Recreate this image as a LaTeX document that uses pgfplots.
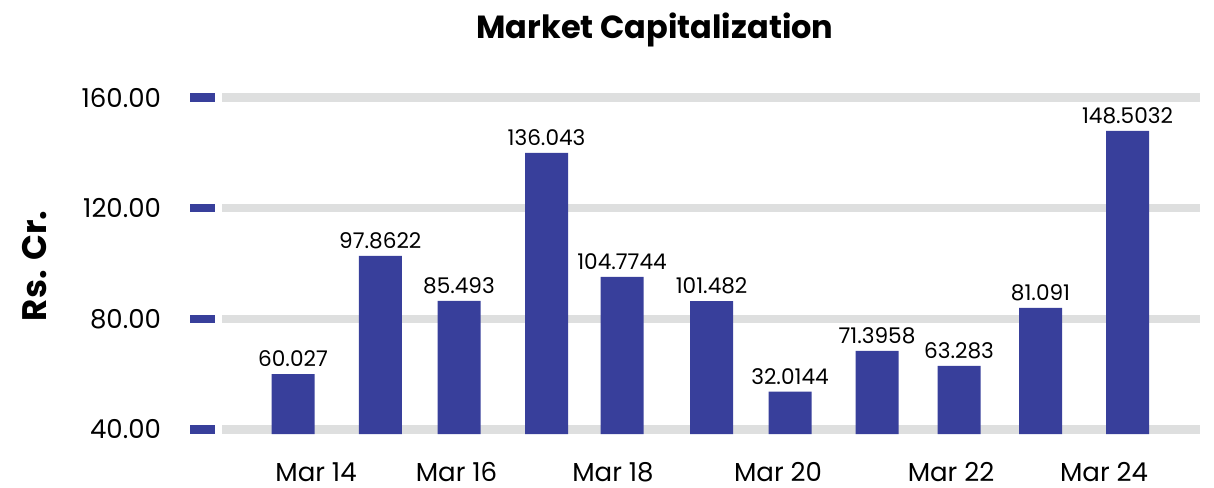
\documentclass[border=0pt]{standalone}
\usepackage{fontspec}
\setmainfont{Poppins}
\usepackage{pgfplots}
\pgfplotsset{compat=1.18}
\definecolor{barblue}{HTML}{383F9B}
\definecolor{gridgray}{HTML}{DEDFDF}
\begin{document}
\begin{tikzpicture}
\useasboundingbox (0,0) rectangle (607pt,243.5pt);
\begin{axis}[
  at={(111pt,26.5pt)}, anchor=south west,
  scale only axis,
  width=489pt, height=170.5pt,
  xmin=222, xmax=1200,
  ymin=38.37, ymax=161.63,
  axis line style={draw=none},
  ytick={40,80,120,160},
  xtick={316,456.5,613,778,951,1104},
  xticklabels={Mar 14,Mar 16,Mar 18,Mar 20,Mar 22,Mar 24},
  tick align=inside,
  major tick length=12.5pt,
  ytick pos=left, xtick pos=bottom,
  xtick style={draw=none},
  ytick style={line width=4.2pt, color=barblue, xshift=-16pt},
  ymajorgrids,
  major grid style={line width=4.2pt, color=gridgray},
  /pgf/number format/assume math mode=true,
  yticklabel={\pgfmathprintnumber[fixed,fixed zerofill,precision=2]{\tick}},
  yticklabel style={font=\fontsize{13}{15}\selectfont, xshift=-27pt},
  xticklabel style={font=\fontsize{13}{15}\selectfont, inner sep=0.5pt, yshift=-1.2pt},
  title={Market Capitalization},
  title style={font=\fontsize{16}{19}\selectfont\bfseries, at={(axis description cs:0.4427,1.15)}, anchor=center},
  ylabel={Rs. Cr.},
  ylabel style={font=\fontsize{17}{20}\selectfont\bfseries, at={(axis description cs:-0.1912,0.493)}, anchor=center, rotate=0},
  ybar, bar width=21.5pt, bar shift=0pt,
  point meta=explicit symbolic,
  nodes near coords,
  every node near coord/.append style={font=\fontsize{10.8}{12}\selectfont, anchor=south, yshift=0pt},
]
\addplot[fill=barblue, draw=none] coordinates {
  (293,60.0)[60.027]
  (380.3,102.8)[97.8622]
  (459,86.5)[85.493]
  (546.5,140.0)[136.043]
  (622,95.2)[104.7744]
  (711.6,86.4)[101.482]
  (790,53.7)[32.0144]
  (877,68.4)[71.3958]
  (959,63.0)[63.283]
  (1040.5,84.0)[81.091]
  (1127.5,147.9)[148.5032]
};
\end{axis}
\end{tikzpicture}
\end{document}
